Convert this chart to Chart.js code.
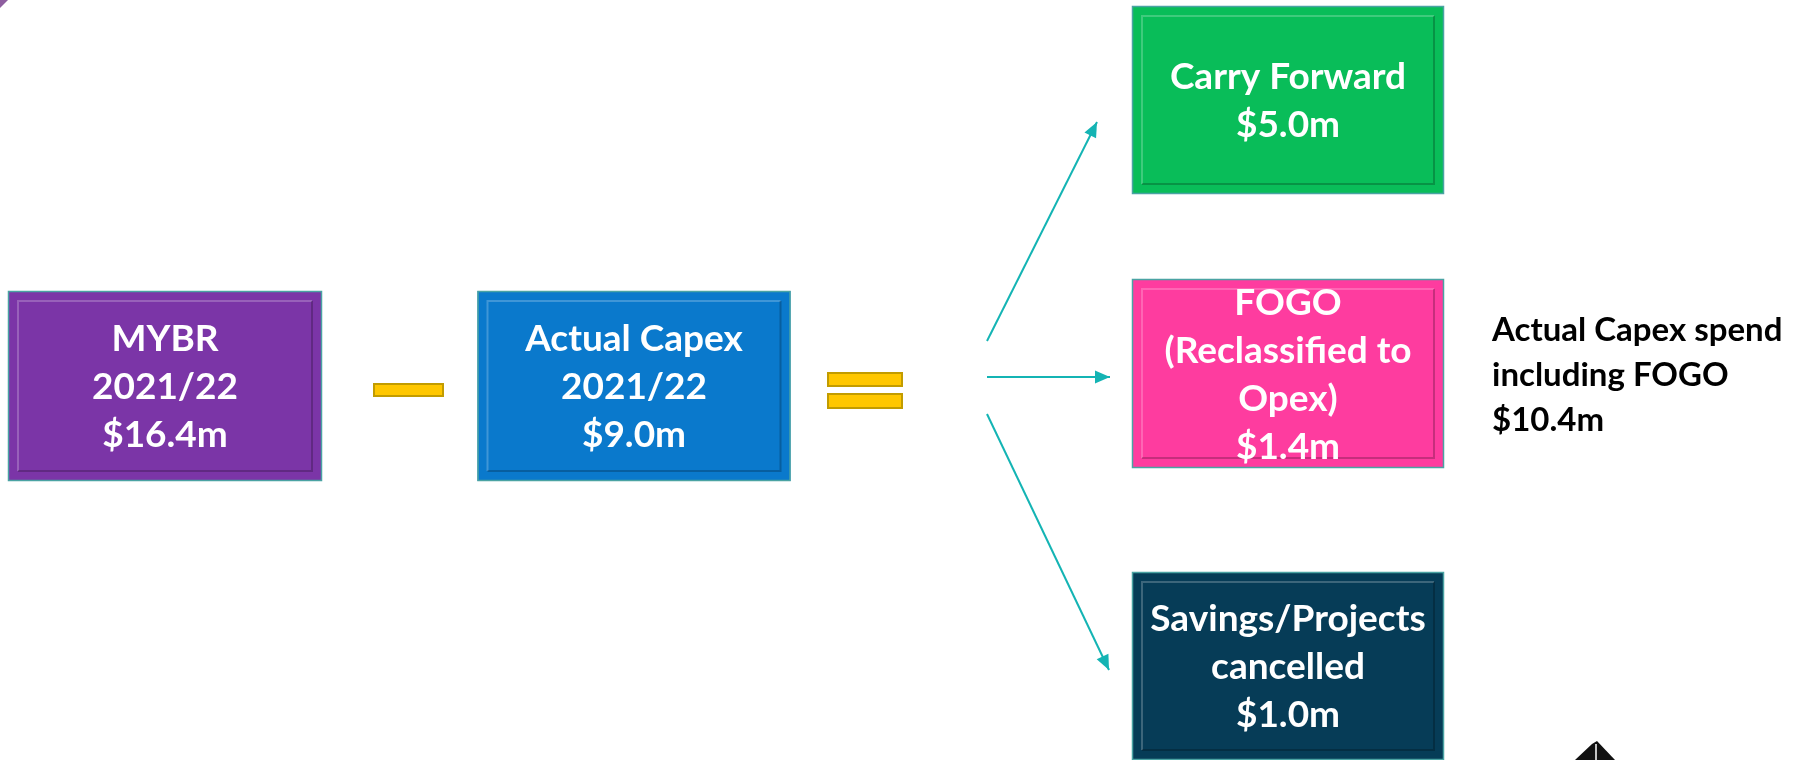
<!DOCTYPE html>
<html>
<head>
<meta charset="utf-8">
<script src="https://cdn.jsdelivr.net/npm/chart.js@4.4.1/dist/chart.umd.min.js"></script>
<style>
  html, body { margin: 0; padding: 0; background: #ffffff; }
  #wrap { width: 1800px; height: 760px; position: relative; }
</style>
</head>
<body>
<div id="wrap"><canvas id="capexFlow"></canvas></div>
<script>
// ---- data ----
const boxTitles = [
    ['MYBR', '2021/22'],
    ['Actual Capex', '2021/22'],
    ['Carry Forward'],
    ['FOGO', '(Reclassified to', 'Opex)'],
    ['Savings/Projects', 'cancelled']
];
const boxValues = [16.4, 9.0, 5.0, 1.4, 1.0];
const noteLines = ['Actual Capex spend', 'including FOGO'];
const noteValue = 10.4;

// ---- layout (diagram units: x 0..1800, y 0..760 top-down) ----
const boxLayout = [
    { x: 165,  y: 386,   w: 314, h: 190, color: '#7b35a7' },
    { x: 634,  y: 386,   w: 313, h: 190, color: '#0a79cc' },
    { x: 1288, y: 100,   w: 312, h: 188, color: '#09bd59' },
    { x: 1288, y: 373.5, w: 312, h: 189, color: '#fe3c9f' },
    { x: 1288, y: 666,   w: 312, h: 188, color: '#063c57' }
];
const signLayout = [
    { x0: 373, x1: 444, y0: 383, y1: 397 },   // minus
    { x0: 827, x1: 903, y0: 372, y1: 387 },   // equals, upper bar
    { x0: 827, x1: 903, y0: 393, y1: 409 }    // equals, lower bar
];
const arrowLayout = [
    [{ x: 987, y: 341 }, { x: 1097, y: 122 }],
    [{ x: 987, y: 377 }, { x: 1110, y: 377 }],
    [{ x: 987, y: 414 }, { x: 1109, y: 670 }]
];
const note = { x: 1492, y: 341, lineHeight: 45 };

const arrowColor = '#14b4b4';
const fontFamily = 'Lato, "Open Sans", sans-serif';

const money = v => '$' + v.toFixed(1) + 'm';

const diagramPlugin = {
    id: 'diagram',
    afterDatasetsDraw(chart) {
        const { ctx } = chart;
        const sx = chart.scales.x, sy = chart.scales.y;
        const px = v => sx.getPixelForValue(v);
        const py = v => sy.getPixelForValue(v);

        ctx.save();

        // corner tab
        ctx.fillStyle = '#8e5e9f';
        ctx.beginPath();
        ctx.moveTo(px(0), py(0));
        ctx.lineTo(px(8), py(0));
        ctx.lineTo(px(0), py(8));
        ctx.closePath();
        ctx.fill();

        // boxes
        boxLayout.forEach((b, i) => {
            const l = px(b.x - b.w / 2), r = px(b.x + b.w / 2);
            const t = py(b.y - b.h / 2), bt = py(b.y + b.h / 2);
            ctx.fillStyle = b.color;
            ctx.fillRect(l, t, r - l, bt - t);
            ctx.strokeStyle = '#4aa3a3';
            ctx.lineWidth = 1.5;
            ctx.strokeRect(l + 0.5, t + 0.5, r - l - 1, bt - t - 1);

            // bevel
            const inset = 10;
            ctx.lineWidth = 2;
            ctx.strokeStyle = 'rgba(255,255,255,0.22)';
            ctx.beginPath();
            ctx.moveTo(l + inset, bt - inset);
            ctx.lineTo(l + inset, t + inset);
            ctx.lineTo(r - inset, t + inset);
            ctx.stroke();
            ctx.strokeStyle = 'rgba(0,0,0,0.22)';
            ctx.beginPath();
            ctx.moveTo(r - inset, t + inset);
            ctx.lineTo(r - inset, bt - inset);
            ctx.lineTo(l + inset, bt - inset);
            ctx.stroke();

            const lines = boxTitles[i].concat([money(boxValues[i])]);
            const lh = 48;
            const first = (t + bt) / 2 - (lines.length - 1) / 2 * lh + 13;
            ctx.fillStyle = '#ffffff';
            ctx.font = 'bold 37px ' + fontFamily;
            ctx.textAlign = 'center';
            ctx.textBaseline = 'alphabetic';
            lines.forEach((s, k) => ctx.fillText(s, (l + r) / 2, first + k * lh));
        });

        // minus / equals
        signLayout.forEach(s => {
            const l = px(s.x0), r = px(s.x1), t = py(s.y0), b = py(s.y1);
            ctx.fillStyle = '#ffc700';
            ctx.fillRect(l, t, r - l, b - t);
            ctx.strokeStyle = '#c29c00';
            ctx.lineWidth = 2;
            ctx.strokeRect(l + 1, t + 1, r - l - 2, b - t - 2);
        });

        // arrow heads on the line datasets
        chart.data.datasets.forEach((ds, i) => {
            if (!ds.arrow) return;
            const pts = chart.getDatasetMeta(i).data;
            const a = pts[0], b = pts[pts.length - 1];
            const ang = Math.atan2(b.y - a.y, b.x - a.x);
            const len = 15, half = 6.5;
            ctx.fillStyle = arrowColor;
            ctx.beginPath();
            ctx.moveTo(b.x, b.y);
            ctx.lineTo(b.x - len * Math.cos(ang) + half * Math.sin(ang), b.y - len * Math.sin(ang) - half * Math.cos(ang));
            ctx.lineTo(b.x - len * Math.cos(ang) - half * Math.sin(ang), b.y - len * Math.sin(ang) + half * Math.cos(ang));
            ctx.closePath();
            ctx.fill();
        });

        // side note
        ctx.fillStyle = '#000000';
        ctx.font = 'bold 33px ' + fontFamily;
        ctx.textAlign = 'left';
        noteLines.concat([money(noteValue)]).forEach((s, k) => {
            ctx.fillText(s, px(note.x), py(note.y + k * note.lineHeight));
        });

        // logo fragment at the bottom edge
        ctx.fillStyle = '#111111';
        ctx.beginPath();
        ctx.moveTo(px(1575), py(760));
        ctx.lineTo(px(1592), py(744));
        ctx.lineTo(px(1597), py(741));
        ctx.lineTo(px(1615), py(760));
        ctx.closePath();
        ctx.fill();
        ctx.strokeStyle = '#ffffff';
        ctx.lineWidth = 1.5;
        ctx.beginPath();
        ctx.moveTo(px(1596), py(744));
        ctx.lineTo(px(1596), py(760));
        ctx.stroke();

        ctx.restore();
    }
};

const datasets = arrowLayout.map(pts => ({
    type: 'line',
    data: pts,
    arrow: true,
    borderColor: arrowColor,
    borderWidth: 2,
    pointRadius: 0,
    fill: false
}));
datasets.push({
    type: 'scatter',
    data: boxLayout.map(b => ({ x: b.x, y: b.y })),
    pointRadius: 0
});

new Chart(document.getElementById('capexFlow'), {
    type: 'scatter',
    data: { datasets: datasets },
    options: {
        responsive: true,
        maintainAspectRatio: false,
        animation: false,
        layout: { padding: 0 },
        plugins: {
            legend: { display: false },
            tooltip: { enabled: false }
        },
        scales: {
            x: { type: 'linear', min: 0, max: 1800, display: false },
            y: { type: 'linear', min: 0, max: 760, reverse: true, display: false }
        }
    },
    plugins: [diagramPlugin]
});
</script>
</body>
</html>
